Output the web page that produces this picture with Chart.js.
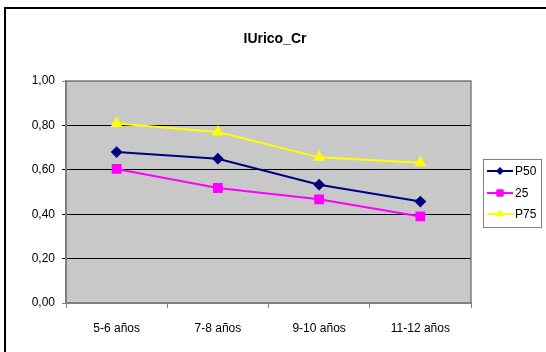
<!DOCTYPE html>
<html><head><meta charset="utf-8">
<script src="https://cdn.jsdelivr.net/npm/chart.js@4/dist/chart.umd.min.js"></script>
<style>html,body{margin:0;padding:0;background:#fff;}#wrap{width:546px;height:352px;}</style>
</head><body><div id="wrap"><canvas id="c" width="546" height="352"></canvas></div>
<script>
const categories = ["5-6 años", "7-8 años", "9-10 años", "11-12 años"];
const p50 = [0.68, 0.65, 0.533, 0.457];
const p25 = [0.604, 0.518, 0.467, 0.39];
const p75 = [0.809, 0.77, 0.656, 0.632];
const seriesNames = ["P50", "25", "P75"];
const yTicks = [0, 0.2, 0.4, 0.6, 0.8, 1.0];
const titleText = "IUrico_Cr";

const FONT = "'Liberation Sans', Arial, sans-serif";

const framePlugin = {
  id: 'frame',
  beforeDraw(chart) {
    const ctx = chart.ctx, a = chart.chartArea;
    ctx.save();
    ctx.fillStyle = '#fff';
    ctx.fillRect(0, 0, chart.width, chart.height);
    ctx.strokeStyle = '#000';
    ctx.lineWidth = 2;
    ctx.strokeRect(5, 8, 600, 400);
    ctx.fillStyle = '#c8c8c8';
    ctx.fillRect(a.left, a.top, a.right - a.left, a.bottom - a.top);
    ctx.restore();
  },
  afterDraw(chart) {
    const ctx = chart.ctx, a = chart.chartArea;
    ctx.save();
    // title
    ctx.fillStyle = '#000';
    ctx.font = 'bold 14px ' + FONT;
    ctx.textAlign = 'center';
    ctx.textBaseline = 'middle';
    ctx.fillText(titleText, 275, 39);
    // plot frame
    ctx.strokeStyle = '#808080';
    ctx.lineWidth = 1.5;
    ctx.beginPath();
    ctx.moveTo(a.left, a.top); ctx.lineTo(a.right, a.top); ctx.lineTo(a.right, a.bottom);
    ctx.stroke();
    // legend
    const lx = 483, ly = 159, lw = 58, lh = 68;
    ctx.fillStyle = '#fff';
    ctx.fillRect(lx, ly, lw, lh);
    ctx.strokeStyle = '#808080';
    ctx.lineWidth = 1;
    ctx.strokeRect(lx + 0.5, ly + 0.5, lw, lh);
    const rows = [171, 193, 214];
    chart.data.datasets.forEach((ds, i) => {
      const y = rows[i];
      ctx.strokeStyle = ds.borderColor;
      ctx.lineWidth = 2;
      ctx.beginPath(); ctx.moveTo(487, y); ctx.lineTo(513, y); ctx.stroke();
      const H = Chart.helpers;
      if (H && H.drawPoint) {
        ctx.fillStyle = ds.pointBackgroundColor;
        ctx.strokeStyle = ds.pointBorderColor;
        ctx.lineWidth = 1;
        H.drawPoint(ctx, {pointStyle: ds.pointStyle, rotation: 0, radius: ds.pointRadius - 1, borderWidth: 1}, 500, y);
      }
      ctx.fillStyle = '#000';
      ctx.font = '12px ' + FONT;
      ctx.textBaseline = 'middle';
      ctx.textAlign = 'left';
      ctx.fillText(ds.label, 515, y + 1);
    });
    ctx.restore();
  }
};

const mk = (label, data, color, style, r) => ({
  label, data, borderColor: color, backgroundColor: color,
  pointBackgroundColor: color, pointBorderColor: color,
  pointStyle: style, pointRadius: r, pointHoverRadius: r,
  borderWidth: 2, tension: 0, fill: false
});

new Chart(document.getElementById('c'), {
  type: 'line',
  data: {
    labels: categories,
    datasets: [
      mk(seriesNames[0], p50, '#000080', 'rectRot', 4.5),
      mk(seriesNames[1], p25, '#ff00ff', 'rect', 5.5),
      mk(seriesNames[2], p75, '#ffff00', 'triangle', 5)
    ]
  },
  options: {
    responsive: false,
    animation: false,
    devicePixelRatio: 1,
    layout: { padding: { left: 0, right: 75, top: 81, bottom: 0 } },
    plugins: {
      legend: { display: false },
      tooltip: { enabled: false },
      title: { display: false }
    },
    scales: {
      x: {
        offset: true,
        afterFit(s) { s.height = 49; },
        grid: { display: true, drawOnChartArea: false, drawTicks: true, tickLength: 5, color: '#808080', offset: true },
        border: { display: true, color: '#808080', width: 2 },
        ticks: { color: '#000', font: { family: FONT, size: 12 }, padding: 13, maxRotation: 0 }
      },
      y: {
        min: 0, max: 1,
        afterFit(s) { s.width = 66; },
        afterBuildTicks(s) { s.ticks = yTicks.map(v => ({ value: v })); },
        grid: {
          color: c => (c.tick && (c.tick.value === 0 || c.tick.value === 1)) ? '#808080' : '#000',
          tickLength: 4, drawTicks: true
        },
        border: { display: true, color: '#808080', width: 2 },
        ticks: {
          color: '#000', font: { family: FONT, size: 12 }, padding: 7,
          callback: v => Number(v).toFixed(2).replace('.', ',')
        }
      }
    }
  },
  plugins: [framePlugin]
});
</script></body></html>
